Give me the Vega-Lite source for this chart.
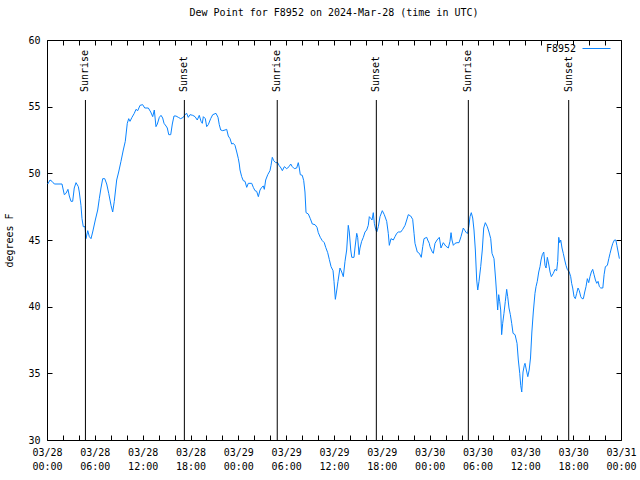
{
  "$schema": "https://vega.github.io/schema/vega-lite/v6.json",
  "width": 574,
  "height": 400,
  "autosize": "none",
  "padding": {"left": 47, "top": 40, "right": 19, "bottom": 40},
  "background": "white",
  "title": {"text": "Dew Point for F8952 on 2024-Mar-28 (time in UTC)", "font": "DejaVu Sans Mono", "fontSize": 10, "fontWeight": "normal", "offset": 16, "anchor": "middle", "color": "black"},
  "config": {
    "view": {"stroke": "black", "strokeWidth": 1},
    "axis": {"grid": false, "domain": false, "tickColor": "black", "tickSize": -5, "labelFont": "DejaVu Sans Mono", "labelFontSize": 10, "labelColor": "black", "titleFont": "DejaVu Sans Mono", "titleFontSize": 10, "titleFontWeight": "normal", "titleColor": "black"},
    "legend": {"labelFont": "DejaVu Sans Mono", "labelFontSize": 10, "labelColor": "black"}
  },
  "datasets": {
    "dew": [
      {"hour":0.09,"dewpoint":49.2},{"hour":0.38,"dewpoint":49.5},{"hour":0.63,"dewpoint":49.4},{"hour":0.92,"dewpoint":49.2},{"hour":1.88,"dewpoint":49.2},{"hour":2.17,"dewpoint":48.4},{"hour":2.38,"dewpoint":48.5},{"hour":2.63,"dewpoint":48.8},{"hour":2.8,"dewpoint":48.3},{"hour":3.01,"dewpoint":47.9},{"hour":3.22,"dewpoint":47.9},{"hour":3.42,"dewpoint":48.9},{"hour":3.64,"dewpoint":49.3},{"hour":3.93,"dewpoint":49.0},{"hour":4.05,"dewpoint":48.6},{"hour":4.26,"dewpoint":47.6},{"hour":4.39,"dewpoint":46.6},{"hour":4.55,"dewpoint":46.0},{"hour":4.77,"dewpoint":46.0},{"hour":4.89,"dewpoint":45.1},{"hour":5.11,"dewpoint":45.7},{"hour":5.31,"dewpoint":45.25},{"hour":5.52,"dewpoint":45.1},{"hour":5.73,"dewpoint":45.6},{"hour":6.06,"dewpoint":46.5},{"hour":6.36,"dewpoint":47.25},{"hour":6.56,"dewpoint":48.1},{"hour":6.77,"dewpoint":48.9},{"hour":6.99,"dewpoint":49.6},{"hour":7.24,"dewpoint":49.6},{"hour":7.49,"dewpoint":49.2},{"hour":7.74,"dewpoint":48.5},{"hour":8.03,"dewpoint":47.6},{"hour":8.24,"dewpoint":47.1},{"hour":8.44,"dewpoint":47.9},{"hour":8.74,"dewpoint":49.5},{"hour":8.99,"dewpoint":50.1},{"hour":9.28,"dewpoint":50.9},{"hour":9.57,"dewpoint":51.75},{"hour":9.82,"dewpoint":52.4},{"hour":10.07,"dewpoint":53.75},{"hour":10.25,"dewpoint":54.1},{"hour":10.41,"dewpoint":53.9},{"hour":10.66,"dewpoint":54.2},{"hour":10.95,"dewpoint":54.5},{"hour":11.16,"dewpoint":54.8},{"hour":11.38,"dewpoint":54.7},{"hour":11.67,"dewpoint":55.1},{"hour":12.0,"dewpoint":55.15},{"hour":12.26,"dewpoint":54.9},{"hour":12.71,"dewpoint":54.9},{"hour":13.01,"dewpoint":54.6},{"hour":13.26,"dewpoint":54.25},{"hour":13.46,"dewpoint":54.75},{"hour":13.67,"dewpoint":53.5},{"hour":13.84,"dewpoint":53.7},{"hour":14.09,"dewpoint":54.2},{"hour":14.3,"dewpoint":54.35},{"hour":14.51,"dewpoint":54.15},{"hour":14.68,"dewpoint":53.75},{"hour":14.93,"dewpoint":53.55},{"hour":15.09,"dewpoint":53.4},{"hour":15.27,"dewpoint":52.9},{"hour":15.52,"dewpoint":52.9},{"hour":15.72,"dewpoint":53.7},{"hour":15.93,"dewpoint":54.3},{"hour":16.18,"dewpoint":54.3},{"hour":16.47,"dewpoint":54.2},{"hour":16.77,"dewpoint":54.1},{"hour":17.1,"dewpoint":54.2},{"hour":17.31,"dewpoint":54.4},{"hour":17.52,"dewpoint":54.5},{"hour":17.72,"dewpoint":54.2},{"hour":17.94,"dewpoint":54.4},{"hour":18.28,"dewpoint":54.35},{"hour":18.57,"dewpoint":54.25},{"hour":18.85,"dewpoint":54.0},{"hour":19.1,"dewpoint":54.35},{"hour":19.32,"dewpoint":53.9},{"hour":19.48,"dewpoint":53.75},{"hour":19.61,"dewpoint":54.25},{"hour":19.86,"dewpoint":54.1},{"hour":20.03,"dewpoint":53.5},{"hour":20.23,"dewpoint":53.65},{"hour":20.53,"dewpoint":54.1},{"hour":20.79,"dewpoint":54.4},{"hour":21.2,"dewpoint":54.5},{"hour":21.45,"dewpoint":54.2},{"hour":21.61,"dewpoint":53.65},{"hour":21.79,"dewpoint":53.25},{"hour":22.04,"dewpoint":53.2},{"hour":22.33,"dewpoint":53.25},{"hour":22.54,"dewpoint":53.3},{"hour":22.74,"dewpoint":52.8},{"hour":22.96,"dewpoint":52.6},{"hour":23.17,"dewpoint":52.2},{"hour":23.37,"dewpoint":52.25},{"hour":23.58,"dewpoint":52.1},{"hour":23.8,"dewpoint":51.6},{"hour":24.0,"dewpoint":51.1},{"hour":24.12,"dewpoint":50.7},{"hour":24.21,"dewpoint":50.25},{"hour":24.42,"dewpoint":49.75},{"hour":24.62,"dewpoint":49.45},{"hour":24.84,"dewpoint":49.4},{"hour":25.05,"dewpoint":48.95},{"hour":25.25,"dewpoint":49.25},{"hour":25.68,"dewpoint":49.25},{"hour":25.88,"dewpoint":48.95},{"hour":26.09,"dewpoint":48.7},{"hour":26.3,"dewpoint":48.65},{"hour":26.51,"dewpoint":48.25},{"hour":26.72,"dewpoint":48.75},{"hour":26.93,"dewpoint":48.95},{"hour":27.13,"dewpoint":49.05},{"hour":27.26,"dewpoint":48.8},{"hour":27.43,"dewpoint":49.5},{"hour":27.69,"dewpoint":49.9},{"hour":27.97,"dewpoint":50.2},{"hour":28.1,"dewpoint":50.6},{"hour":28.26,"dewpoint":51.2},{"hour":28.44,"dewpoint":50.95},{"hour":28.69,"dewpoint":50.8},{"hour":28.94,"dewpoint":50.8},{"hour":29.1,"dewpoint":50.6},{"hour":29.35,"dewpoint":50.4},{"hour":29.52,"dewpoint":50.2},{"hour":29.77,"dewpoint":50.5},{"hour":30.07,"dewpoint":50.35},{"hour":30.36,"dewpoint":50.5},{"hour":30.57,"dewpoint":50.7},{"hour":30.77,"dewpoint":50.5},{"hour":31.02,"dewpoint":50.35},{"hour":31.32,"dewpoint":50.4},{"hour":31.52,"dewpoint":50.8},{"hour":31.65,"dewpoint":50.4},{"hour":31.77,"dewpoint":49.9},{"hour":32.02,"dewpoint":49.85},{"hour":32.2,"dewpoint":49.45},{"hour":32.36,"dewpoint":48.6},{"hour":32.49,"dewpoint":47.05},{"hour":32.78,"dewpoint":46.95},{"hour":33.03,"dewpoint":46.6},{"hour":33.28,"dewpoint":46.2},{"hour":33.62,"dewpoint":46.15},{"hour":33.87,"dewpoint":45.95},{"hour":34.03,"dewpoint":45.55},{"hour":34.28,"dewpoint":45.2},{"hour":34.53,"dewpoint":44.95},{"hour":34.78,"dewpoint":44.8},{"hour":34.96,"dewpoint":44.45},{"hour":35.21,"dewpoint":44.05},{"hour":35.41,"dewpoint":43.55},{"hour":35.63,"dewpoint":43.0},{"hour":35.88,"dewpoint":42.7},{"hour":36.0,"dewpoint":41.9},{"hour":36.17,"dewpoint":40.55},{"hour":36.35,"dewpoint":41.25},{"hour":36.5,"dewpoint":41.9},{"hour":36.75,"dewpoint":42.9},{"hour":36.97,"dewpoint":42.6},{"hour":37.17,"dewpoint":42.25},{"hour":37.38,"dewpoint":43.4},{"hour":37.59,"dewpoint":44.25},{"hour":37.79,"dewpoint":46.1},{"hour":37.92,"dewpoint":45.6},{"hour":38.1,"dewpoint":44.25},{"hour":38.23,"dewpoint":43.7},{"hour":38.51,"dewpoint":43.7},{"hour":38.63,"dewpoint":44.4},{"hour":38.85,"dewpoint":45.5},{"hour":38.97,"dewpoint":45.2},{"hour":39.14,"dewpoint":43.9},{"hour":39.26,"dewpoint":44.4},{"hour":39.47,"dewpoint":44.9},{"hour":39.68,"dewpoint":45.2},{"hour":39.89,"dewpoint":45.6},{"hour":40.1,"dewpoint":45.75},{"hour":40.3,"dewpoint":46.1},{"hour":40.43,"dewpoint":46.75},{"hour":40.64,"dewpoint":46.6},{"hour":40.77,"dewpoint":46.5},{"hour":40.93,"dewpoint":47.05},{"hour":41.06,"dewpoint":46.25},{"hour":41.23,"dewpoint":45.8},{"hour":41.36,"dewpoint":45.6},{"hour":41.56,"dewpoint":46.0},{"hour":41.77,"dewpoint":46.75},{"hour":42.06,"dewpoint":47.2},{"hour":42.31,"dewpoint":46.9},{"hour":42.61,"dewpoint":46.4},{"hour":42.81,"dewpoint":45.5},{"hour":42.94,"dewpoint":44.6},{"hour":43.15,"dewpoint":45.1},{"hour":43.44,"dewpoint":45.0},{"hour":43.65,"dewpoint":45.25},{"hour":43.87,"dewpoint":45.5},{"hour":44.07,"dewpoint":45.6},{"hour":44.37,"dewpoint":45.6},{"hour":44.62,"dewpoint":45.8},{"hour":44.91,"dewpoint":46.1},{"hour":45.12,"dewpoint":46.5},{"hour":45.32,"dewpoint":46.9},{"hour":45.62,"dewpoint":46.8},{"hour":45.87,"dewpoint":46.55},{"hour":46.04,"dewpoint":45.5},{"hour":46.16,"dewpoint":44.75},{"hour":46.45,"dewpoint":44.1},{"hour":46.7,"dewpoint":44.0},{"hour":46.95,"dewpoint":43.7},{"hour":47.13,"dewpoint":44.5},{"hour":47.29,"dewpoint":45.1},{"hour":47.63,"dewpoint":45.2},{"hour":47.75,"dewpoint":45.0},{"hour":47.95,"dewpoint":44.75},{"hour":48.04,"dewpoint":44.5},{"hour":48.33,"dewpoint":44.1},{"hour":48.46,"dewpoint":44.0},{"hour":48.67,"dewpoint":44.75},{"hour":48.92,"dewpoint":45.0},{"hour":49.21,"dewpoint":45.2},{"hour":49.42,"dewpoint":44.4},{"hour":49.71,"dewpoint":44.8},{"hour":50.01,"dewpoint":44.55},{"hour":50.34,"dewpoint":44.4},{"hour":50.55,"dewpoint":44.9},{"hour":50.68,"dewpoint":45.55},{"hour":50.8,"dewpoint":45.0},{"hour":50.97,"dewpoint":44.6},{"hour":51.18,"dewpoint":44.75},{"hour":51.43,"dewpoint":44.8},{"hour":51.68,"dewpoint":44.8},{"hour":51.93,"dewpoint":45.25},{"hour":52.22,"dewpoint":45.9},{"hour":52.43,"dewpoint":45.7},{"hour":52.59,"dewpoint":45.55},{"hour":52.77,"dewpoint":45.5},{"hour":52.93,"dewpoint":46.1},{"hour":53.06,"dewpoint":46.75},{"hour":53.22,"dewpoint":47.05},{"hour":53.4,"dewpoint":46.65},{"hour":53.56,"dewpoint":45.75},{"hour":53.73,"dewpoint":44.25},{"hour":53.9,"dewpoint":42.0},{"hour":54.03,"dewpoint":41.25},{"hour":54.19,"dewpoint":41.9},{"hour":54.4,"dewpoint":43.0},{"hour":54.6,"dewpoint":44.25},{"hour":54.78,"dewpoint":45.9},{"hour":54.98,"dewpoint":46.3},{"hour":55.23,"dewpoint":46.0},{"hour":55.44,"dewpoint":45.6},{"hour":55.66,"dewpoint":45.1},{"hour":55.82,"dewpoint":44.0},{"hour":56.07,"dewpoint":43.6},{"hour":56.28,"dewpoint":42.0},{"hour":56.45,"dewpoint":40.5},{"hour":56.53,"dewpoint":39.75},{"hour":56.66,"dewpoint":40.9},{"hour":56.78,"dewpoint":40.4},{"hour":56.91,"dewpoint":39.75},{"hour":57.03,"dewpoint":37.9},{"hour":57.16,"dewpoint":38.75},{"hour":57.32,"dewpoint":39.5},{"hour":57.49,"dewpoint":40.4},{"hour":57.66,"dewpoint":41.3},{"hour":57.79,"dewpoint":40.75},{"hour":57.95,"dewpoint":39.9},{"hour":58.12,"dewpoint":39.4},{"hour":58.29,"dewpoint":38.75},{"hour":58.46,"dewpoint":38.0},{"hour":58.71,"dewpoint":37.9},{"hour":58.96,"dewpoint":37.25},{"hour":59.12,"dewpoint":36.0},{"hour":59.3,"dewpoint":35.0},{"hour":59.42,"dewpoint":34.1},{"hour":59.55,"dewpoint":33.6},{"hour":59.71,"dewpoint":35.1},{"hour":59.87,"dewpoint":35.6},{"hour":59.96,"dewpoint":35.75},{"hour":60.13,"dewpoint":35.25},{"hour":60.31,"dewpoint":34.75},{"hour":60.48,"dewpoint":35.25},{"hour":60.65,"dewpoint":36.15},{"hour":60.82,"dewpoint":38.1},{"hour":61.0,"dewpoint":39.6},{"hour":61.21,"dewpoint":41.0},{"hour":61.34,"dewpoint":41.5},{"hour":61.5,"dewpoint":41.9},{"hour":61.68,"dewpoint":42.6},{"hour":61.84,"dewpoint":43.0},{"hour":61.97,"dewpoint":43.5},{"hour":62.13,"dewpoint":43.9},{"hour":62.31,"dewpoint":44.1},{"hour":62.47,"dewpoint":43.1},{"hour":62.6,"dewpoint":42.9},{"hour":62.76,"dewpoint":43.7},{"hour":62.93,"dewpoint":43.2},{"hour":63.1,"dewpoint":42.6},{"hour":63.26,"dewpoint":42.25},{"hour":63.51,"dewpoint":42.5},{"hour":63.72,"dewpoint":42.8},{"hour":63.93,"dewpoint":42.7},{"hour":64.06,"dewpoint":43.4},{"hour":64.19,"dewpoint":45.2},{"hour":64.31,"dewpoint":44.8},{"hour":64.44,"dewpoint":45.0},{"hour":64.6,"dewpoint":44.4},{"hour":64.76,"dewpoint":44.0},{"hour":64.94,"dewpoint":43.5},{"hour":65.1,"dewpoint":43.1},{"hour":65.26,"dewpoint":42.8},{"hour":65.51,"dewpoint":42.6},{"hour":65.69,"dewpoint":42.25},{"hour":65.81,"dewpoint":41.75},{"hour":65.94,"dewpoint":41.4},{"hour":66.11,"dewpoint":40.75},{"hour":66.27,"dewpoint":40.6},{"hour":66.44,"dewpoint":41.0},{"hour":66.61,"dewpoint":41.4},{"hour":66.77,"dewpoint":41.2},{"hour":66.95,"dewpoint":40.75},{"hour":67.11,"dewpoint":40.6},{"hour":67.28,"dewpoint":40.6},{"hour":67.45,"dewpoint":41.1},{"hour":67.61,"dewpoint":41.5},{"hour":67.78,"dewpoint":42.1},{"hour":67.95,"dewpoint":41.8},{"hour":68.11,"dewpoint":42.25},{"hour":68.28,"dewpoint":42.6},{"hour":68.45,"dewpoint":42.8},{"hour":68.62,"dewpoint":42.4},{"hour":68.79,"dewpoint":42.0},{"hour":68.96,"dewpoint":41.75},{"hour":69.12,"dewpoint":41.9},{"hour":69.29,"dewpoint":41.5},{"hour":69.46,"dewpoint":41.4},{"hour":69.72,"dewpoint":41.4},{"hour":69.88,"dewpoint":42.4},{"hour":70.04,"dewpoint":43.0},{"hour":70.29,"dewpoint":43.1},{"hour":70.47,"dewpoint":43.6},{"hour":70.63,"dewpoint":44.0},{"hour":70.8,"dewpoint":44.4},{"hour":70.97,"dewpoint":44.75},{"hour":71.18,"dewpoint":45.0},{"hour":71.35,"dewpoint":45.0},{"hour":71.48,"dewpoint":44.6},{"hour":71.64,"dewpoint":44.1},{"hour":71.8,"dewpoint":43.6}
    ],
    "sun": [
      {"hour":4.82,"event":"Sunrise"},{"hour":17.23,"event":"Sunset"},{"hour":28.88,"event":"Sunrise"},{"hour":41.31,"event":"Sunset"},{"hour":52.85,"event":"Sunrise"},{"hour":65.44,"event":"Sunset"}
    ]
  },
  "layer": [
    {
      "data": {"name": "dew"},
      "mark": {"type": "line", "strokeWidth": 1, "interpolate": "linear"},
      "encoding": {
        "x": {"field": "hour", "type": "quantitative", "scale": {"domain": [0, 72], "nice": false, "zero": false},
          "axis": {"orient": "bottom", "title": null, "values": [0,2,4,6,8,10,12,14,16,18,20,22,24,26,28,30,32,34,36,38,40,42,44,46,48,50,52,54,56,58,60,62,64,66,68,70,72],
            "labelExpr": "datum.value % 6 == 0 ? ['03/' + (28 + floor(datum.value / 24)), (datum.value % 24 < 10 ? '0' : '') + (datum.value % 24) + ':00'] : ''",
            "labelOverlap": false, "labelFlush": false, "labelBound": false, "labelLineHeight": 14, "labelPadding": 12, "labelAngle": 0}},
        "y": {"field": "dewpoint", "type": "quantitative", "scale": {"domain": [30, 60], "nice": false, "zero": false},
          "axis": {"orient": "left", "title": "degrees F", "values": [30,35,40,45,50,55,60], "labelPadding": 12, "titlePadding": 13}},
        "color": {"datum": "F8952", "type": "nominal", "scale": {"range": ["#0a84ff"]},
          "legend": {"title": null, "orient": "none", "legendX": 535, "legendY": -6, "padding": 0, "symbolType": "stroke", "symbolSize": 784, "symbolStrokeWidth": 1, "labelAlign": "right", "labelOffset": -35}}
      }
    },
    {
      "data": {"name": "sun"},
      "mark": {"type": "rule", "color": "black", "strokeWidth": 1},
      "encoding": {
        "x": {"field": "hour", "type": "quantitative", "axis": {"orient": "top", "title": null, "labels": false, "values": [0,2,4,6,8,10,12,14,16,18,20,22,24,26,28,30,32,34,36,38,40,42,44,46,48,50,52,54,56,58,60,62,64,66,68,70,72]}},
        "y": {"datum": 30, "type": "quantitative", "axis": {"orient": "right", "title": null, "labels": false, "values": [30,35,40,45,50,55,60]}},
        "y2": {"datum": 55.5}
      }
    },
    {
      "data": {"name": "sun"},
      "mark": {"type": "text", "angle": 270, "align": "left", "baseline": "middle", "font": "DejaVu Sans Mono", "fontSize": 10, "color": "black"},
      "encoding": {
        "x": {"field": "hour", "type": "quantitative", "axis": null},
        "y": {"datum": 56.1, "type": "quantitative", "axis": null},
        "text": {"field": "event"}
      }
    }
  ]
}
